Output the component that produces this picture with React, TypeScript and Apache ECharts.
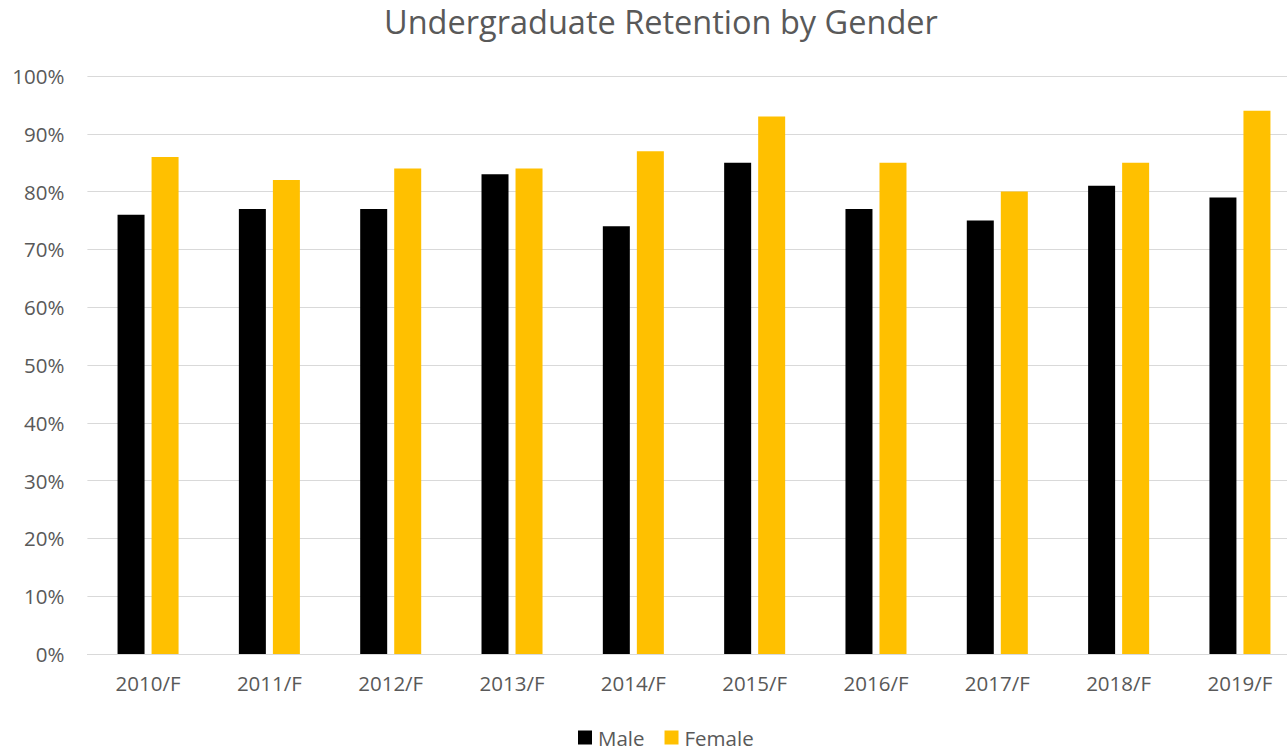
import React, { useEffect, useRef } from "react";
import * as echarts from "echarts";

const categories = ["2010/F", "2011/F", "2012/F", "2013/F", "2014/F", "2015/F", "2016/F", "2017/F", "2018/F", "2019/F"];
const maleValues = [76, 77, 77, 83, 74, 85, 77, 75, 81, 79];
const femaleValues = [86, 82, 84, 84, 87, 93, 85, 80, 85, 94];
const seriesNames = ["Male", "Female"];
const titleText = "Undergraduate Retention by Gender";

const FONT = "'Open Sans', 'Noto Sans', sans-serif";
const TEXT_COLOR = "#595959";
const GRID_COLOR = "#d9d9d9";

export default function App() {
  const ref = useRef<HTMLDivElement>(null);
  useEffect(() => {
    if (!ref.current) return;
    const chart = echarts.init(ref.current, null, { renderer: "svg" });
    chart.setOption({
      animation: false,
      backgroundColor: "#ffffff",
      title: {
        text: titleText,
        left: 379,
        top: 0,
        textStyle: { fontFamily: FONT, fontSize: 32.5, fontWeight: "normal", color: TEXT_COLOR },
      },
      legend: {
        data: seriesNames,
        left: 578,
        top: 727,
        padding: 0,
        itemWidth: 14,
        itemHeight: 14,
        itemGap: 20,
        icon: "rect",
        textStyle: { fontFamily: FONT, fontSize: 20.5, color: TEXT_COLOR, padding: [0, 0, 0, 1] },
      },
      grid: { left: 87.4, width: 1213.2, top: 76, height: 578 },
      xAxis: {
        type: "category",
        data: categories,
        axisTick: { show: false },
        axisLine: { lineStyle: { color: GRID_COLOR, width: 1 } },
        axisLabel: { fontFamily: FONT, fontSize: 20.5, color: TEXT_COLOR, margin: 18 },
      },
      yAxis: {
        type: "value",
        min: 0,
        max: 100,
        interval: 10,
        axisLine: { show: false },
        axisTick: { show: false },
        splitLine: { lineStyle: { color: GRID_COLOR, width: 1 } },
        axisLabel: {
          fontFamily: FONT,
          fontSize: 20.5,
          color: TEXT_COLOR,
          margin: 23,
          formatter: (v: number) => `${v}%`,
        },
      },
      series: [
        {
          name: seriesNames[0],
          type: "bar",
          data: maleValues,
          barWidth: 27,
          barGap: "26%",
          itemStyle: { color: "#000000" },
        },
        {
          name: seriesNames[1],
          type: "bar",
          data: femaleValues,
          barWidth: 27,
          barGap: "26%",
          itemStyle: { color: "#FFC000" },
        },
      ],
    });
    return () => chart.dispose();
  }, []);
  return (
    <div
      style={{ position: "fixed", left: 0, top: 0, width: 1287, height: 751, overflow: "hidden", background: "#fff" }}
    >
      <div ref={ref} style={{ width: 1314, height: 751 }} />
    </div>
  );
}
